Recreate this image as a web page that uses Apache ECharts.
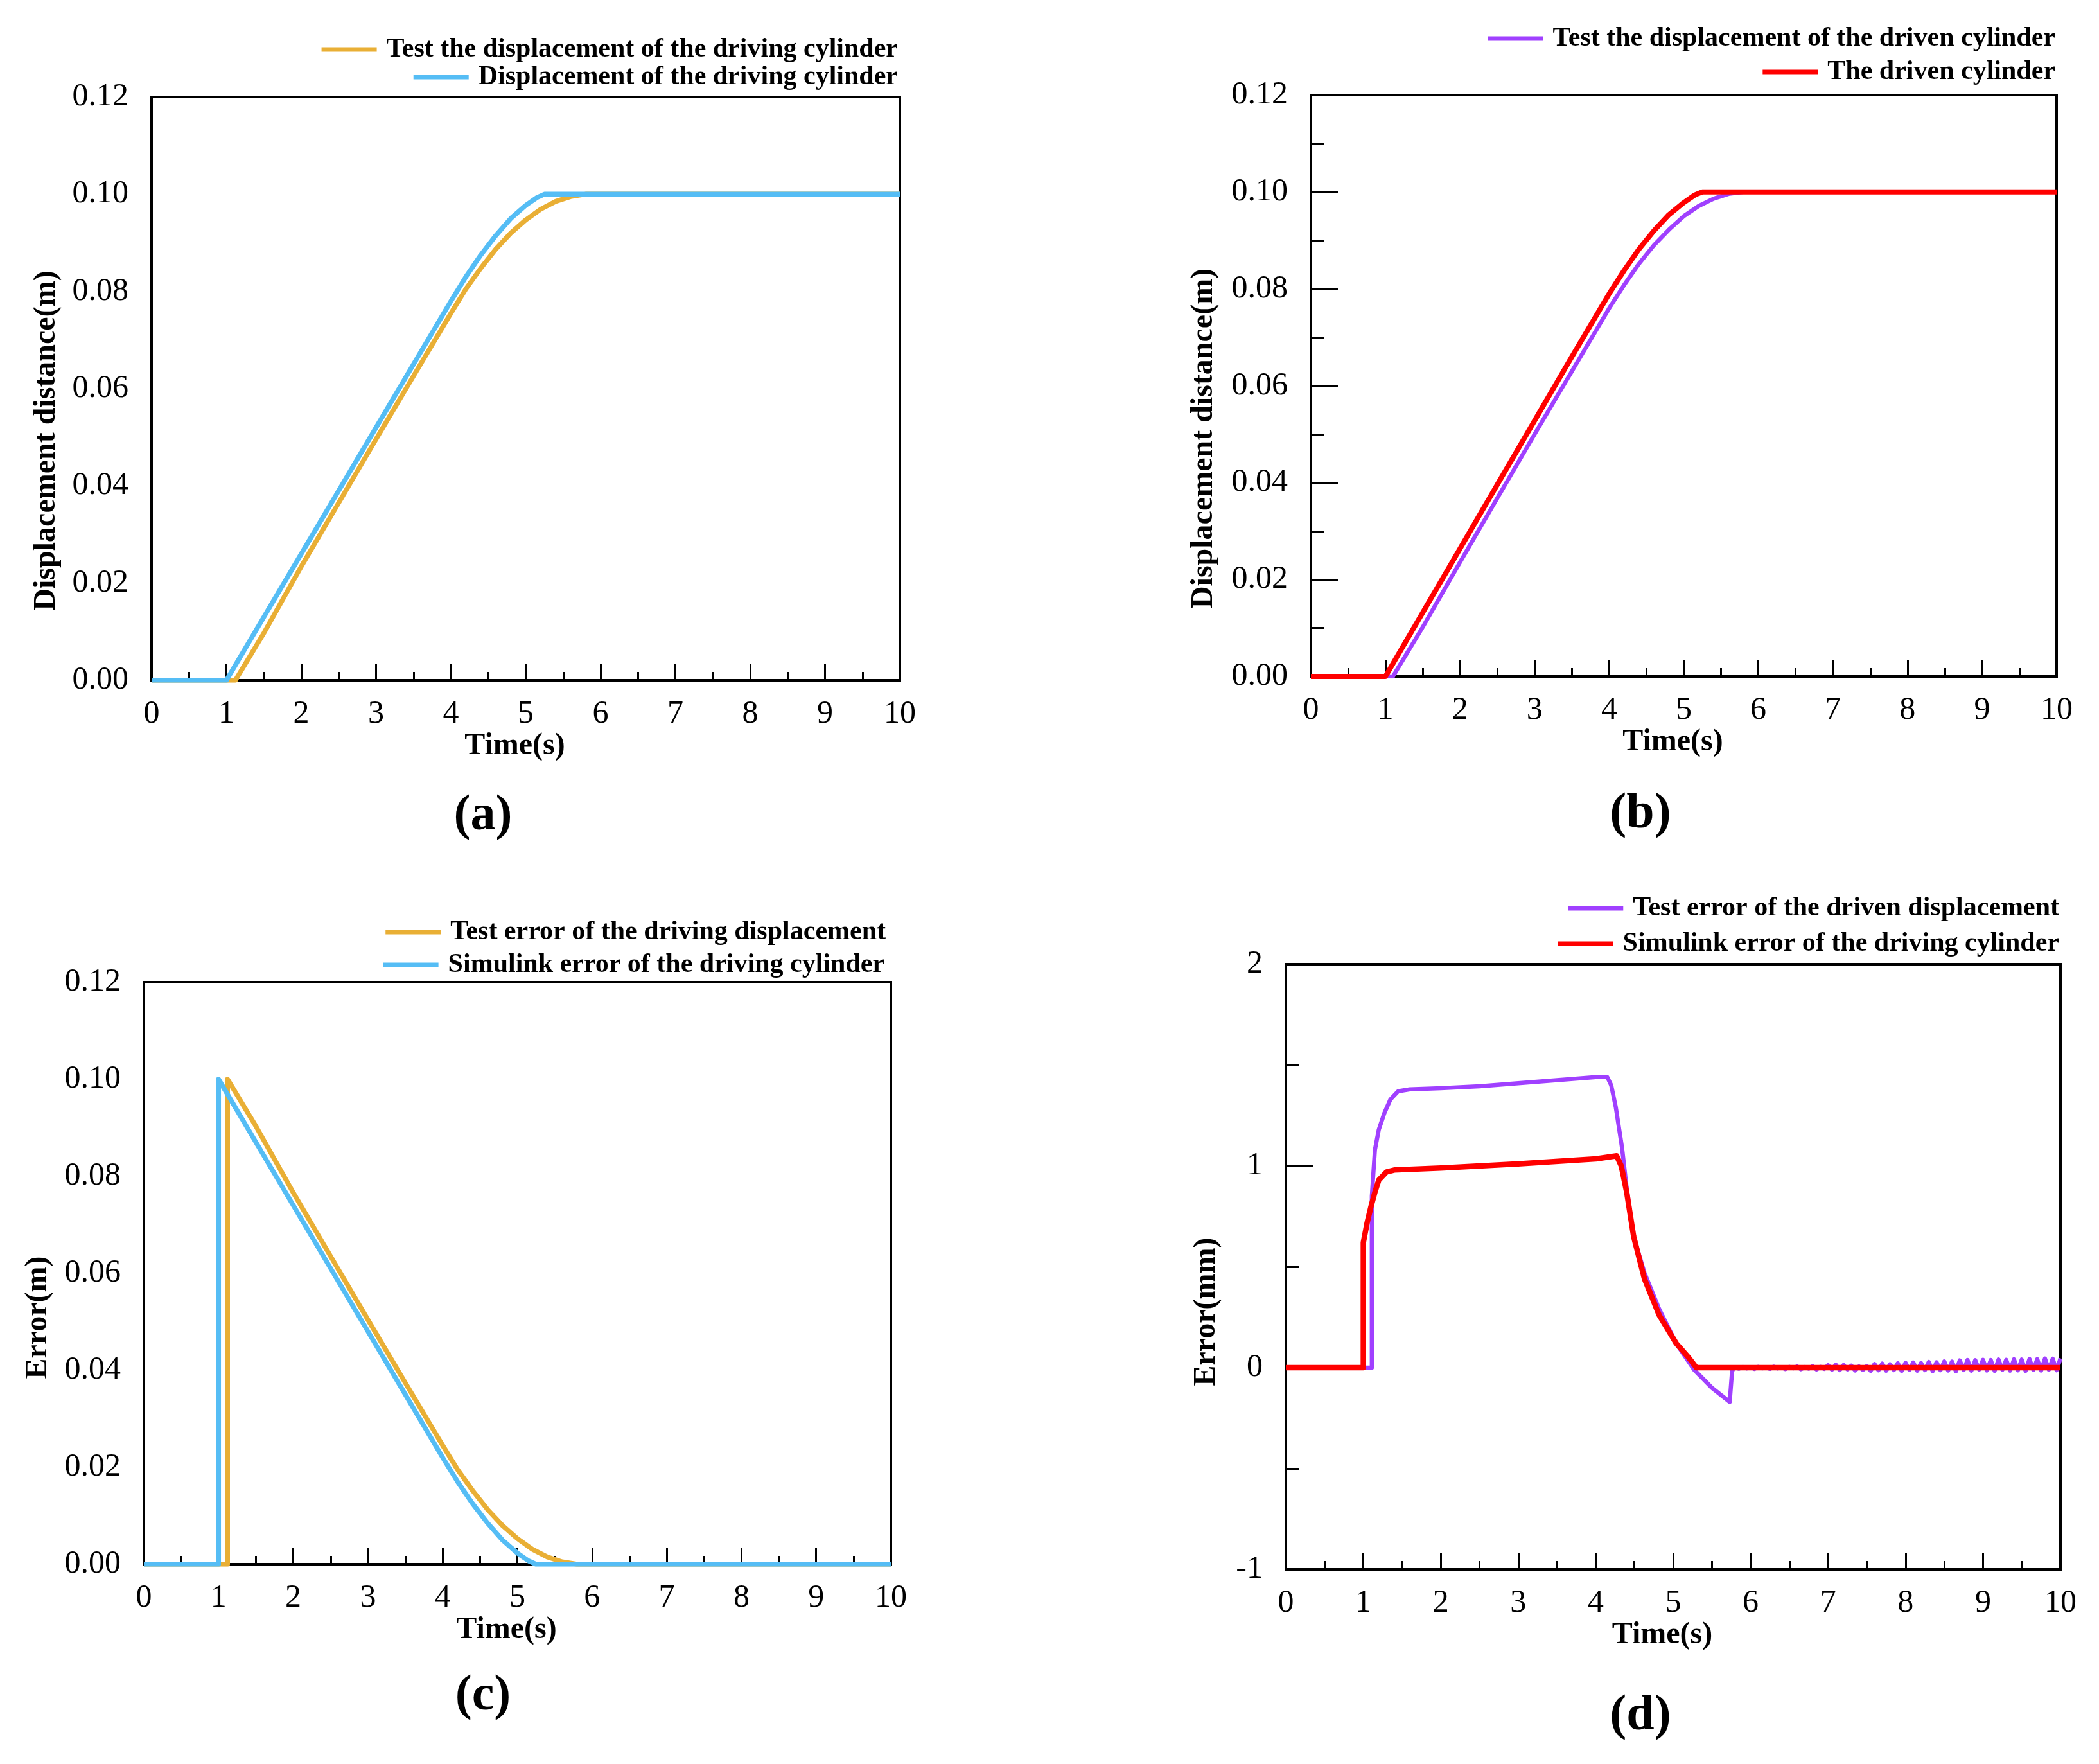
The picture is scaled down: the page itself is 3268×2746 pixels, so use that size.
<!DOCTYPE html>
<html>
<head>
<meta charset="utf-8">
<script src="https://cdn.jsdelivr.net/npm/echarts@6/dist/echarts.min.js"></script>
<style>
html,body{margin:0;padding:0;background:#fff;}
#chart{width:3268px;height:2746px;}
</style>
</head>
<body>
<div id="chart"></div>
<script>
// ---------- DATA ----------
const timeTicks = [0,1,2,3,4,5,6,7,8,9,10];

// (a) driving cylinder displacement (m)
const aTestDisp = [[0,0],[1.12,0],[1.5,0.0097],[2,0.0234],[2.5,0.0365],[3,0.0496],[3.5,0.0626],[4,0.0755],[4.2,0.0805],[4.4,0.0848],[4.6,0.0887],[4.8,0.0920],[5.0,0.0947],[5.2,0.0969],[5.4,0.0985],[5.6,0.0995],[5.8,0.1],[10,0.1]];
const aSimDisp = [[0,0],[1.0,0],[1.5,0.013],[2,0.026],[2.5,0.039],[3,0.052],[3.5,0.065],[4,0.078],[4.2,0.0830],[4.4,0.0875],[4.6,0.0915],[4.8,0.0950],[5.0,0.0977],[5.15,0.0993],[5.25,0.1],[10,0.1]];

// (b) driven cylinder displacement (m)
const bTestDisp = [[0,0],[1.1,0],[1.5,0.0102],[2,0.0236],[2.5,0.0368],[3,0.0500],[3.5,0.0630],[4,0.0760],[4.2,0.0808],[4.4,0.0852],[4.6,0.0890],[4.8,0.0922],[5.0,0.0950],[5.2,0.0971],[5.4,0.0986],[5.6,0.0996],[5.8,0.1],[10,0.1]];
const bSimDisp = [[0,0],[1.0,0],[1.5,0.0132],[2,0.0264],[2.5,0.0396],[3,0.0528],[3.5,0.066],[4,0.0790],[4.2,0.0838],[4.4,0.0882],[4.6,0.0920],[4.8,0.0953],[5.0,0.0978],[5.15,0.0994],[5.25,0.1],[10,0.1]];

// (c) driving error (m)
const cTestErr = [[0,0],[1.12,0],[1.12,0.1],[1.5,0.0903],[2,0.0766],[2.5,0.0635],[3,0.0504],[3.5,0.0374],[4,0.0245],[4.2,0.0195],[4.4,0.0152],[4.6,0.0113],[4.8,0.0080],[5.0,0.0053],[5.2,0.0031],[5.4,0.0015],[5.6,0.0005],[5.8,0],[10,0]];
const cSimErr = [[0,0],[1.0,0],[1.0,0.1],[1.5,0.087],[2,0.074],[2.5,0.061],[3,0.048],[3.5,0.035],[4,0.022],[4.2,0.0170],[4.4,0.0125],[4.6,0.0085],[4.8,0.0050],[5.0,0.0023],[5.15,0.0007],[5.25,0],[10,0]];

// (d) driven error (mm)
const dTestErrMain = [[0,0],[1.11,0],[1.11,0.85],[1.15,1.08],[1.2,1.18],[1.27,1.26],[1.35,1.33],[1.45,1.37],[1.6,1.38],[2,1.385],[2.5,1.395],[3,1.41],[3.5,1.425],[4,1.44],[4.15,1.44],[4.2,1.40],[4.26,1.29],[4.34,1.09],[4.40,0.89],[4.49,0.65],[4.63,0.47],[4.82,0.29],[5.04,0.12],[5.27,-0.01],[5.5,-0.10],[5.73,-0.17],[5.76,-0.02],[5.78,0]];
const dTestErrTail = [
  [5.80,0.000],[5.85,-0.005],[5.90,0.003],[5.95,-0.004],[6.00,0.002],[6.05,-0.006],[6.10,0.004],[6.15,-0.003],[6.20,0.000],[6.25,-0.006],
  [6.30,0.005],[6.35,-0.004],[6.40,0.002],[6.45,-0.007],[6.50,0.004],[6.55,-0.003],[6.60,0.006],[6.65,-0.008],[6.70,0.003],[6.75,-0.005],
  [6.80,0.007],[6.85,-0.009],[6.90,0.004],[6.95,-0.006],[7.00,0.012],[7.05,-0.010],[7.10,0.014],[7.15,-0.012],[7.20,0.013],[7.25,-0.008],
  [7.30,0.010],[7.35,-0.014],[7.40,0.006],[7.45,-0.011],[7.50,0.008],[7.55,-0.016],[7.60,0.018],[7.65,-0.013],[7.70,0.020],[7.75,-0.015],
  [7.80,0.017],[7.85,-0.012],[7.90,0.022],[7.95,-0.016],[8.00,0.024],[8.05,-0.011],[8.10,0.026],[8.15,-0.015],[8.20,0.023],[8.25,-0.012],
  [8.30,0.028],[8.35,-0.017],[8.40,0.027],[8.45,-0.013],[8.50,0.031],[8.55,-0.014],[8.60,0.030],[8.65,-0.018],[8.70,0.036],[8.75,-0.012],
  [8.80,0.038],[8.85,-0.015],[8.90,0.037],[8.95,-0.010],[9.00,0.039],[9.05,-0.014],[9.10,0.038],[9.15,-0.016],[9.20,0.040],[9.25,-0.011],
  [9.30,0.039],[9.35,-0.015],[9.40,0.041],[9.45,-0.013],[9.50,0.040],[9.55,-0.016],[9.60,0.043],[9.65,-0.012],[9.70,0.042],[9.75,-0.014],
  [9.80,0.045],[9.85,-0.010],[9.90,0.044],[9.95,-0.013],[10.00,0.046]];
const dSimErr = [[0,0],[1.0,0],[1.0,0.62],[1.05,0.72],[1.1,0.80],[1.15,0.87],[1.2,0.93],[1.3,0.97],[1.4,0.98],[2,0.99],[3,1.01],[4,1.035],[4.27,1.05],[4.33,1.0],[4.4,0.87],[4.49,0.65],[4.63,0.44],[4.82,0.26],[5.04,0.12],[5.2,0.05],[5.3,0],[10,0]];

const names = {
  aTest:'Test the displacement of the driving cylinder',
  aSim:'Displacement of the driving cylinder',
  bTest:'Test the displacement of the driven cylinder',
  bSim:'The driven cylinder',
  cTest:'Test error of the driving displacement',
  cSim:'Simulink error of the driving cylinder',
  dTest:'Test error of the driven displacement',
  dSim:'Simulink error of the driving cylinder '
};

// ---------- STYLE ----------
const FONT = 'Liberation Serif';
const ORANGE = '#E9AF35', BLUE = '#55BDF5', PURPLE = '#A040FF', RED = '#FF0000';
const W = 3268;

const grids = [
  {left:236, top:151, width:1165, height:908},
  {left:2041, top:148, width:1161, height:905},
  {left:224, top:1529, width:1163, height:906},
  {left:2002, top:1501, width:1206, height:942}
];

function xAx(i){
  return {
    type:'value', gridIndex:i, min:0, max:10, interval:1,
    name:'Time(s)', nameLocation:'middle', nameGap:66,
    nameTextStyle:{fontFamily:FONT, fontWeight:'bold', fontSize:48, color:'#000', padding:[0,34,0,0]},
    axisLine:{show:true, onZero:false, lineStyle:{color:'#000', width:4}},
    axisTick:{show:true, inside:true, length:25, lineStyle:{color:'#000', width:3}},
    minorTick:{show:true, splitNumber:2, length:13, lineStyle:{color:'#000', width:3}},
    splitLine:{show:false},
    axisLabel:{fontFamily:FONT, fontSize:50, color:'#000', margin:28,
      formatter:v=>timeTicks.includes(v)?String(v):''}
  };
}
function yAx(i, o){
  return Object.assign({
    type:'value', gridIndex:i,
    nameLocation:'middle',
    axisLine:{show:true, onZero:false, lineStyle:{color:'#000', width:4}},
    splitLine:{show:false},
    axisLabel:{fontFamily:FONT, fontSize:50, color:'#000', margin:36}
  }, o);
}
const yNameStyle = (shift)=>({fontFamily:FONT, fontWeight:'bold', fontSize:48, color:'#000', padding:[0,2*shift,0,0]});

const yAxes = [
  yAx(0,{min:0,max:0.12,interval:0.02,name:'Displacement distance(m)',nameGap:139,nameTextStyle:yNameStyle(81),
    axisTick:{show:false},
    axisLabel:{fontFamily:FONT,fontSize:50,color:'#000',margin:36,formatter:v=>v.toFixed(2)}}),
  yAx(1,{min:0,max:0.12,interval:0.02,name:'Displacement distance(m)',nameGap:142,nameTextStyle:yNameStyle(82),
    axisTick:{show:true,inside:true,length:42,lineStyle:{color:'#000',width:3}},
    minorTick:{show:true,splitNumber:2,length:20,lineStyle:{color:'#000',width:3}},
    axisLabel:{fontFamily:FONT,fontSize:50,color:'#000',margin:36,formatter:v=>v.toFixed(2)}}),
  yAx(2,{min:0,max:0.12,interval:0.02,name:'Error(m)',nameGap:140,nameTextStyle:yNameStyle(69),
    axisTick:{show:false},
    axisLabel:{fontFamily:FONT,fontSize:50,color:'#000',margin:36,formatter:v=>v.toFixed(2)}}),
  yAx(3,{min:-1,max:2,interval:1,name:'Error(mm)',nameGap:99,nameTextStyle:yNameStyle(70),
    axisTick:{show:true,inside:true,length:42,lineStyle:{color:'#000',width:3}},
    minorTick:{show:true,splitNumber:2,length:20,lineStyle:{color:'#000',width:3}},
    axisLabel:{fontFamily:FONT,fontSize:50,color:'#000',margin:36,formatter:v=>String(v)}})
];

function ser(name, data, i, color, width){
  return {type:'line', name, data, xAxisIndex:i, yAxisIndex:i, showSymbol:false, symbol:'none',
    color, lineStyle:{color, width, join:'round'}, animation:false};
}
const series = [
  ser(names.aTest, aTestDisp, 0, ORANGE, 7.5),
  ser(names.aSim, aSimDisp, 0, BLUE, 7.5),
  ser(names.bTest, bTestDisp, 1, PURPLE, 6.5),
  ser(names.bSim, bSimDisp, 1, RED, 8),
  ser(names.cTest, cTestErr, 2, ORANGE, 7.5),
  ser(names.cSim, cSimErr, 2, BLUE, 7.5),
  ser(names.dTest, dTestErrMain.concat(dTestErrTail), 3, PURPLE, 6.5),
  ser(names.dSim, dSimErr, 3, RED, 8.5)
];

function leg(name, textRight, yc){
  return {data:[name], right: W - textRight, top: yc - 21, padding:0, icon:'rect',
    itemWidth:86, itemHeight:7, selectedMode:false,
    formatter: n => n.trim(),
    textStyle:{fontFamily:FONT, fontWeight:'bold', fontSize:42, lineHeight:42, color:'#000', padding:[0,0,0,10]}};
}
const legends = [
  leg(names.aTest, 1398, 77), leg(names.aSim, 1398, 120),
  leg(names.bTest, 3200, 60), leg(names.bSim, 3200, 112),
  leg(names.cTest, 1379, 1451), leg(names.cSim, 1377, 1502),
  leg(names.dTest, 3206, 1414), leg(names.dSim, 3206, 1469)
];

function panelLabel(t, x, y){
  return {type:'text', x, y, style:{text:t, fontFamily:FONT, fontWeight:'bold', fontSize:78, fill:'#000', align:'center', verticalAlign:'middle'}};
}

const chart = echarts.init(document.getElementById('chart'), null, {renderer:'canvas'});
chart.setOption({
  animation:false,
  backgroundColor:'#fff',
  grid: grids.map(g=>Object.assign({show:true, borderColor:'#000', borderWidth:4, backgroundColor:'transparent'}, g)),
  xAxis:[xAx(0),xAx(1),xAx(2),xAx(3)],
  yAxis:yAxes,
  legend:legends,
  series,
  graphic:[
    panelLabel('(a)', 752, 1271),
    panelLabel('(b)', 2554, 1268),
    panelLabel('(c)', 752, 2641),
    panelLabel('(d)', 2554, 2672)
  ]
});
</script>
</body>
</html>
